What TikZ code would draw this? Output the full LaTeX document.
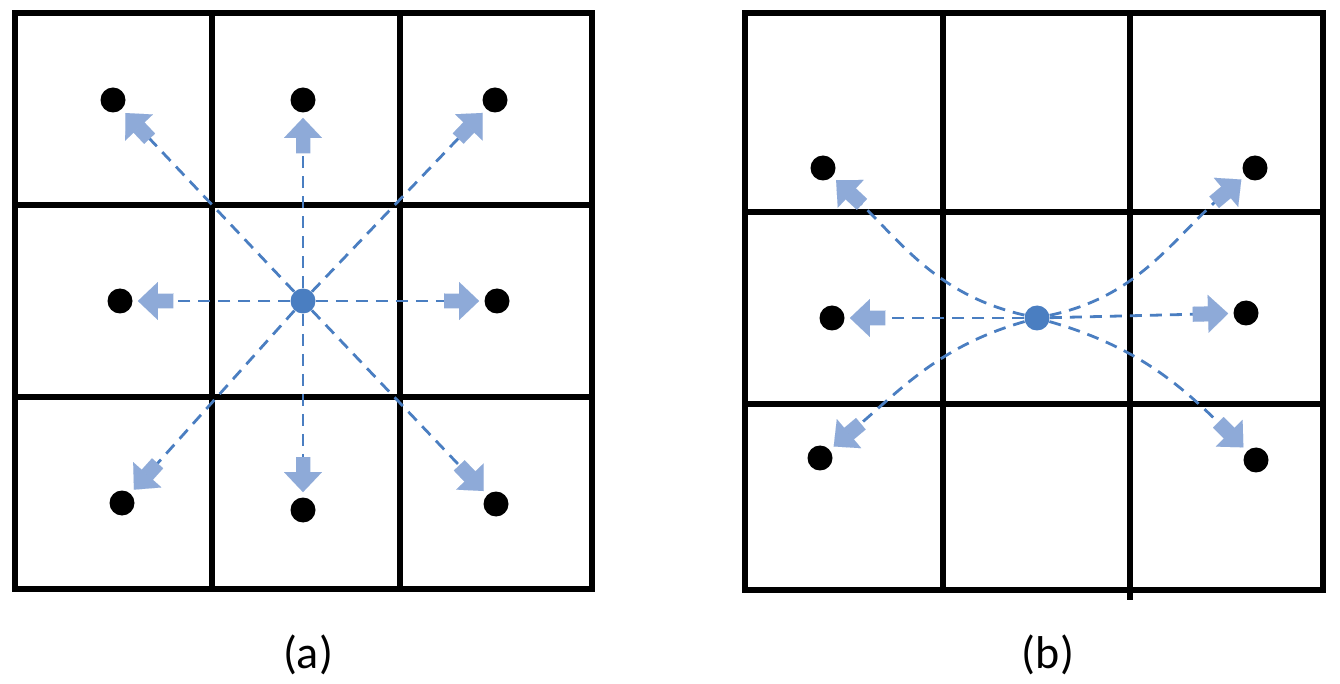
\documentclass[tikz,border=0pt]{standalone}
\usepackage{fontspec}
\setmainfont{Carlito}
\usetikzlibrary{arrows.meta}
\definecolor{lineblue}{HTML}{4A7EC1}
\definecolor{arrowblue}{HTML}{8EAAD8}
\definecolor{centerblue}{HTML}{4A7EC1}
\tikzset{
  gridline/.style={line width=2.8pt, line cap=rect},
  dot/.style={circle, fill=black, inner sep=0pt, minimum size=12.5pt},
  cdot/.style={circle, fill=centerblue, inner sep=0pt, minimum size=12.5pt},
  flow/.style={draw=lineblue, line width=1.4pt, dash pattern=on 6pt off 4pt,
    shorten >=2.5pt, shorten <=0pt,
    -{Rectangle[length=8pt,width=7.5pt,color=arrowblue,fill=arrowblue,line width=0.01pt,sep=-0.3pt]
      Triangle[length=10pt,width=19pt,color=arrowblue,fill=arrowblue,line width=0.01pt,sep=0pt]}},
  lab/.style={font=\fontsize{23pt}{27pt}\selectfont, inner sep=0pt}
}
\begin{document}
\begin{tikzpicture}[x=0.5pt,y=-0.5pt]
\useasboundingbox (0,0) rectangle (1340,684);
% left grid
\draw[gridline] (15,13) rectangle (592,589);
\draw[gridline] (212,13) -- (212,589);
\draw[gridline] (400,13) -- (400,589);
\draw[gridline] (15,205) -- (592,205);
\draw[gridline] (15,397) -- (592,397);
% right grid
\draw[gridline] (745,13) rectangle (1323,590);
\draw[gridline] (943,13) -- (943,590);
\draw[gridline] (1130,13) -- (1130,597);
\draw[gridline] (745,212) -- (1323,212);
\draw[gridline] (745,404) -- (1323,404);
% left nodes
\node[cdot] (c1) at (303,301) {};
\node[dot] (a1) at (113,100) {};
\node[dot] (a2) at (303,100) {};
\node[dot] (a3) at (495,100) {};
\node[dot] (a4) at (120,301) {};
\node[dot] (a6) at (497,301) {};
\node[dot] (a7) at (122,503) {};
\node[dot] (a8) at (303,510) {};
\node[dot] (a9) at (496,504) {};
\foreach \t in {a1,a2,a3,a4,a6,a7,a8,a9} \draw[flow] (c1) -- (\t);
% right nodes
\node[cdot] (c2) at (1037,318) {};
\node[dot] (b1) at (823,168) {};
\node[dot] (b3) at (1255,168) {};
\node[dot] (b4) at (832,318) {};
\node[dot] (b6) at (1246,313) {};
\node[dot] (b7) at (820,458) {};
\node[dot] (b9) at (1256,460) {};
\draw[flow] (c2) -- (b4);
\draw[flow] (c2) -- (b6);
\draw[flow] (c2) to[out=167,in=-43] (b1);
\draw[flow] (c2) to[out=196,in=40] (b7);
\draw[flow] (c2) to[out=12,in=220] (b3);
\draw[flow] (c2) to[out=-16,in=135] (b9);
% labels
\node[lab] (la) at (308,655) {(a)};
\node[lab] (lb) at (1048,655) {(b)};
\end{tikzpicture}
\end{document}
